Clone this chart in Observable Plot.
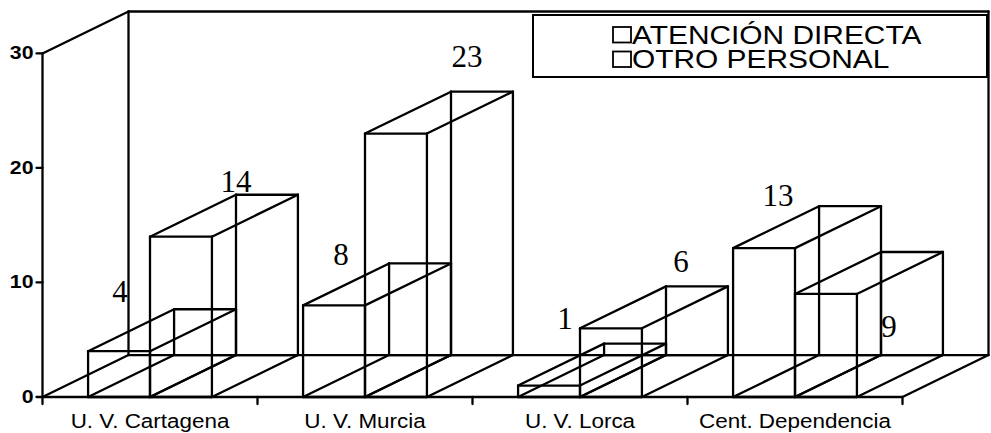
<!DOCTYPE html>
<html><head><meta charset="utf-8">
<script src="https://cdn.jsdelivr.net/npm/d3@7"></script>
<script src="https://cdn.jsdelivr.net/npm/@observablehq/plot@0.6"></script>
<style>
html,body{margin:0;padding:0;background:#fff;}
#chart{position:relative;width:991px;height:433px;}
#legend{position:absolute;left:0;top:0;pointer-events:none;}
</style></head><body>
<div id="chart"></div>
<script>
// ---- data ----
const categories = ["U. V. Cartagena", "U. V. Murcia", "U. V. Lorca", "Cent. Dependencia"];
const seriesNames = ["ATENCIÓN DIRECTA", "OTRO PERSONAL"];
const atencionDirecta = [4, 8, 1, 13];
const otroPersonal = [14, 23, 6, 9];
const yTicks = [0, 10, 20, 30];

// ---- layout / style ----
const W = 991, H = 433, ML = 42, MR = 3, MT = 11, MB = 36.5;
const YMAX = 30, DX = 0.4, DY = 3.66, GAP = 0.212, BAR = 0.288;
const N = categories.length;
const xPerPx = (N + DX) / (W - ML - MR);
const yPerPx = (YMAX + DY) / (H - MT - MB);
// pixel nudges of the value labels (relative to the top centre of each bar's front face)
const labelNudge = [
  [[1, -59], [7, -50], [16, -66], [14, -52]],
  [[55, -55], [71, -77], [70, -66], [63, 33]]
];
const SANS = "Liberation Sans, Arial, sans-serif";
const SERIF = "Liberation Serif, Times New Roman, serif";
const STRETCH = 1.15;
const LW = 2.3;

const series = [atencionDirecta, otroPersonal];
const bars = [];
series.forEach((vals, s) => vals.forEach((v, i) =>
  bars.push({s, i, v, x0: i + GAP + s * BAR, x1: i + GAP + (s + 1) * BAR})));

function boxEdges(x0, x1, y0, y1) {
  const f = [[x0, y0], [x1, y0], [x1, y1], [x0, y1]];
  const segs = [];
  for (let k = 0; k < 4; k++) {
    const a = f[k], b = f[(k + 1) % 4];
    segs.push([a[0], a[1], b[0], b[1]]);
    segs.push([a[0] + DX, a[1] + DY, b[0] + DX, b[1] + DY]);
    segs.push([a[0], a[1], a[0] + DX, a[1] + DY]);
  }
  return segs;
}
const barSegs = bars.flatMap(b => boxEdges(b.x0, b.x1, 0, b.v));

const frameSegs = [
  [0, 0, 0, YMAX],
  [0, YMAX, DX, YMAX + DY],
  [0, 0, DX, DY],
  [DX, DY, DX, YMAX + DY],
  [DX, YMAX + DY, N + DX, YMAX + DY],
  [N + DX, YMAX + DY, N + DX, DY],
  [DX, DY, N + DX, DY],
  [0, 0, N, 0],
  [N, 0, N + DX, DY]
];
const yTickSegs = yTicks.map(t => [0, t, -6 * xPerPx, t]);
const xTickSegs = d3.range(N + 1).map(i => [i, 0, i, -7 * yPerPx]);

const seg = (data) => Plot.link(data, {
  x1: d => d[0], y1: d => d[1], x2: d => d[2], y2: d => d[3],
  stroke: "black", strokeWidth: LW, strokeLinecap: "round"
});

const svg = Plot.plot({
  width: W, height: H,
  marginLeft: ML, marginRight: MR, marginTop: MT, marginBottom: MB,
  x: {type: "linear", domain: [0, N + DX], axis: null},
  y: {type: "linear", domain: [0, YMAX + DY], axis: null},
  style: {background: "white", overflow: "visible"},
  marks: [
    seg(frameSegs),
    seg(yTickSegs),
    seg(xTickSegs),
    seg(barSegs),
    Plot.text(yTicks, {x: 0, y: d => d, text: d => String(d), textAnchor: "end", dx: -9,
      fontFamily: SANS, fontWeight: "bold", fontSize: 18.5, fill: "black"}),
    Plot.text(categories, {x: (d, i) => i + 0.5, y: 0, text: d => d, dy: 24.5,
      fontFamily: SANS, fontSize: 19.5, fill: "black"}),
    Plot.text(bars, {
      x: d => (d.x0 + d.x1) / 2 + labelNudge[d.s][d.i][0] * xPerPx,
      y: d => d.v - labelNudge[d.s][d.i][1] * yPerPx,
      text: d => String(d.v),
      fontFamily: SERIF, fontSize: 31, fill: "black"})
  ]
});

const chart = document.getElementById("chart");
chart.appendChild(svg);

// horizontally stretch the sans-serif texts, as in the original
svg.querySelectorAll(`g[font-family="${SANS}"] text`).forEach(t => {
  const w = t.getComputedTextLength();
  if (w > 0) {
    t.setAttribute("textLength", w * STRETCH);
    t.setAttribute("lengthAdjust", "spacingAndGlyphs");
  }
});

// legend box overlay
const leg = d3.create("svg").attr("id", "legend").attr("width", W).attr("height", H);
leg.append("rect").attr("x", 533).attr("y", 15).attr("width", 454).attr("height", 62)
  .attr("fill", "white").attr("stroke", "black").attr("stroke-width", 2);
seriesNames.forEach((name, k) => {
  const by = 43.5 + k * 24.5;
  leg.append("rect").attr("x", 613).attr("y", by - 16.5).attr("width", 18).attr("height", 15.5)
    .attr("fill", "none").attr("stroke", "black").attr("stroke-width", 1.8);
  leg.append("text").attr("transform", `translate(632,${by}) scale(${STRETCH},1)`)
    .attr("font-family", SANS).attr("font-size", 26).attr("fill", "black").text(name);
});
chart.appendChild(leg.node());
</script>
</body></html>
